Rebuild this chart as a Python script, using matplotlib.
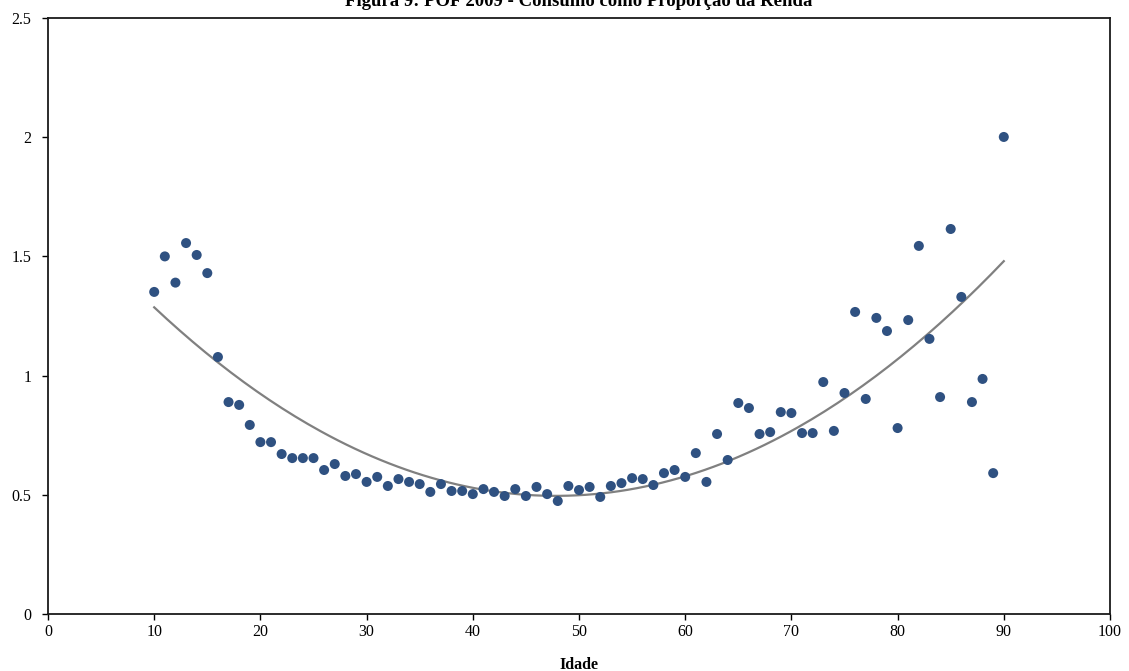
import numpy as np
import matplotlib
matplotlib.use("Agg")
from matplotlib import pyplot as plt

idade = np.arange(10, 91)
consumo = [
    1.351, 1.500, 1.390, 1.556, 1.506, 1.430, 1.078, 0.889, 0.877, 0.793,  # 10-19
    0.721, 0.721, 0.671, 0.654, 0.654, 0.654, 0.604, 0.629, 0.579, 0.587,  # 20-29
    0.554, 0.575, 0.537, 0.566, 0.554, 0.545, 0.512, 0.545, 0.516, 0.516,  # 30-39
    0.503, 0.524, 0.512, 0.495, 0.524, 0.495, 0.533, 0.503, 0.474, 0.537,  # 40-49
    0.520, 0.533, 0.491, 0.537, 0.549, 0.570, 0.566, 0.541, 0.591, 0.604,  # 50-59
    0.575, 0.675, 0.554, 0.755, 0.646, 0.885, 0.864, 0.755, 0.763, 0.847,  # 60-69
    0.843, 0.759, 0.759, 0.973, 0.768, 0.927, 1.267, 0.902, 1.242, 1.187,  # 70-79
    0.780, 1.233, 1.544, 1.154, 0.910, 1.615, 1.330, 0.889, 0.986, 0.591,  # 80-89
    2.001,                                                                 # 90
]

titulo = "Figura 9: POF 2009 - Consumo como Proporção da Renda"
xticks = list(range(0, 101, 10))
yticks = [0, 0.5, 1, 1.5, 2, 2.5]
ylabels = ["0", "0.5", "1", "1.5", "2", "2.5"]

plt.rcParams['font.family'] = ['Liberation Serif', 'DejaVu Serif']

fig = plt.figure(figsize=(11.29, 6.71), dpi=100)
ax = fig.add_axes([48/1129, 1 - 614/671, (1110 - 48)/1129, (614 - 18)/671])

# tendencia polinomial de ordem 2 (como no Excel)
coef = np.polyfit(idade, consumo, 2)
xt = np.linspace(10, 90, 200)
ax.plot(xt, np.polyval(coef, xt), color='#808080', lw=1.6, zorder=2)

ax.scatter(idade, consumo, s=52, color='#2F5181', edgecolors='none', zorder=3)

ax.set_xlim(0, 100)
ax.set_ylim(0, 2.5)
ax.set_xticks(xticks)
ax.set_yticks(yticks)
ax.set_yticklabels(ylabels)
ax.tick_params(direction='out', length=4, width=1, labelsize=11.5, colors='black')
ax.tick_params(axis='y', pad=8)
for s in ax.spines.values():
    s.set_linewidth(1.3)
    s.set_color('#1a1a1a')

ax.set_xlabel("Idade", fontsize=11.5, fontweight='bold', labelpad=12)
fig.text(0.513, 1 - 6/671, titulo, ha='center', va='baseline',
         fontsize=13.5, fontweight='bold')

fig.savefig("out.png", dpi=100)
